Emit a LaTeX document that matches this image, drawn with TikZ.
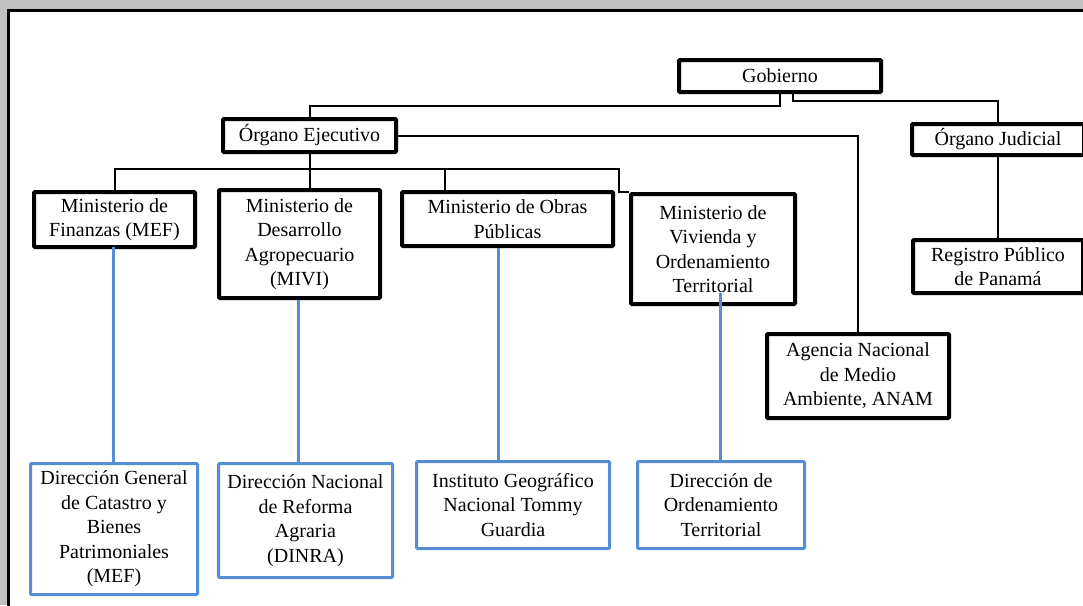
\documentclass[tikz,border=0pt]{standalone}
\usepackage{fontspec}
\setmainfont{Liberation Serif}
\usepackage{tikz}
\definecolor{orgblue}{HTML}{558ED5}
\definecolor{pagegrey}{HTML}{C0C0C0}

\begin{document}
\begin{tikzpicture}[
    x=1pt,y=-1pt,
    every node/.style={font=\fontsize{20}{24.5}\selectfont,align=center,inner sep=2pt},
    box/.style={rectangle,rounded corners=1pt,draw=black,line width=4pt,fill=white},
    bluebox/.style={rectangle,rounded corners=1pt,draw=orgblue,line width=3pt,fill=white},
    conn/.style={line width=2pt,color=black},
    blueconn/.style={line width=3pt,color=orgblue}
  ]
    \useasboundingbox (0,0) rectangle (1083,605);
    \fill[pagegrey] (0,0) rectangle (1083,605);
    \draw[line width=2.7pt,fill=white] (8.7,10.3) rectangle (1100,620);

    \node[box,minimum width=202,minimum height=32] (gob) at (780,76) {Gobierno};
    \node[box,minimum width=173,minimum height=33] (ejec) at (309.5,135.5) {Órgano Ejecutivo};
    \node[box,minimum width=172,minimum height=31] (jud) at (998,139.5) {Órgano Judicial};
    \node[box,minimum width=161,minimum height=55] (fin) at (114.5,219.5) {Ministerio de\\Finanzas (MEF)};
    \node[box,minimum width=161,minimum height=108] (mida) at (299.5,244) {Ministerio de\\Desarrollo\\Agropecuario\\(MIVI)};
    \node[box,minimum width=211,minimum height=54] (obras) at (507.5,219) {Ministerio de Obras\\Públicas};
    \node[box,minimum width=164,minimum height=110] (viv) at (713,249) {Ministerio de\\Vivienda y\\Ordenamiento\\Territorial};
    \node[box,minimum width=182,minimum height=84] (anam) at (858,376) {Agencia Nacional\\de Medio\\Ambiente, ANAM};
    \node[box,minimum width=170,minimum height=53] (reg) at (998,266.5) {Registro Público\\de Panamá};
    \node[bluebox,minimum width=167,minimum height=131] (cat) at (114,529) {Dirección General\\de Catastro y\\Bienes\\Patrimoniales\\(MEF)};
    \node[bluebox,minimum width=174,minimum height=114] (dinra) at (305.5,520.5) {Dirección Nacional\\de Reforma\\Agraria\\(DINRA)};
    \node[bluebox,minimum width=193,minimum height=87] (inst) at (513,505) {Instituto Geográfico\\Nacional Tommy\\Guardia};
    \node[bluebox,minimum width=167,minimum height=87] (orden) at (721,505) {Dirección de\\Ordenamiento\\Territorial};

    \coordinate (busR) at (619,169);
    \draw[conn] (gob.south) -- ++(0,12) -| (ejec.north);
    \draw[conn] ([xshift=13pt]gob.south) -- ++(0,7) -| (jud.north);
    \draw[conn] (ejec.east) -| (anam.north);
    \draw[conn] (jud.south) -- (reg.north);
    \draw[conn] (ejec.south) -- (ejec.south |- mida.north);
    \draw[conn] (fin.north) |- (busR) |- (viv.north west);
    \draw[conn] ([xshift=-62.5pt]obras.north) -- ([xshift=-62.5pt]obras.north |- busR);

    \draw[blueconn] ([xshift=-1.5pt,yshift=2pt]fin.south) -- ([xshift=-1.5pt]fin.south |- cat.north);
    \draw[blueconn] ([xshift=-1.5pt]mida.south) -- ([xshift=-1.5pt]mida.south |- dinra.north);
    \draw[blueconn] ([xshift=-9.5pt]obras.south) -- ([xshift=-9.5pt]obras.south |- inst.north);
    \draw[blueconn] ([xshift=7pt,yshift=13pt]viv.south) -- ([xshift=7pt]viv.south |- orden.north);
  \end{tikzpicture}
\end{document}
